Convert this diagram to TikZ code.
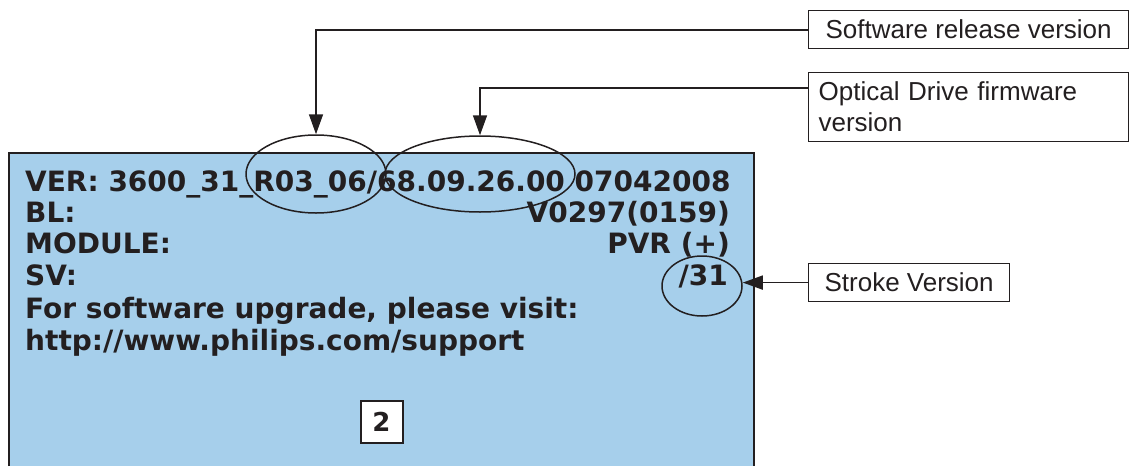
\documentclass[tikz,border=0pt]{standalone}
\usepackage{fontspec}
\setmainfont{Liberation Sans}
\newfontfamily\verd{DejaVu Sans}
\usetikzlibrary{arrows.meta,shapes.geometric}
\definecolor{scrblue}{HTML}{A6CFEB}
\definecolor{ink}{HTML}{231F20}
\tikzset{
  scr/.style={font=\verd\bfseries\fontsize{28}{32}\selectfont, text=ink, inner sep=0pt},
  lbl/.style={draw=ink, line width=1.2pt, fill=white, font=\fontsize{26}{32}\selectfont, text=ink, align=left, anchor=north west, inner xsep=10pt, inner ysep=0pt},
  ring/.style={draw=ink, line width=1.5pt, ellipse},
  conn/.style={draw=ink, line width=1.6pt, -{Triangle[length=20pt,width=14pt]}},
}
\begin{document}
\begin{tikzpicture}[x=1pt,y=-1pt]
\useasboundingbox (0,0) rectangle (1132,466);
% screen
\fill[scrblue] (9,153) rectangle (754,466);
\draw[ink, line width=2pt] (9,466) -- (9,153) -- (754,153) -- (754,466);
% screen text
\node[scr, anchor=base west] (ver) at (25,191) {VER: 3600\_31\_R03\_06/68.09.26.00 07042008};
\node[scr, anchor=base west] (bl) at (25,222) {BL:};
\node[scr, anchor=base east] (blv) at (730,222) {V0297(0159)};
\node[scr, anchor=base west] (mod) at (25,253) {MODULE:};
\node[scr, anchor=base east] (modv) at (730,253) {PVR (+)};
\node[scr, anchor=base west] (sv) at (25,285) {SV:};
\node[scr, anchor=base east] (svv) at (728,285) {/31};
\node[scr, anchor=base west] (up) at (25,318) {For software upgrade, please visit:};
\node[scr, anchor=base west] (url) at (25,350) {http://www.philips.com/support};
\node[draw=ink, line width=2pt, fill=white, minimum size=42pt, inner sep=0pt, font=\verd\bfseries\fontsize{26}{30}\selectfont, text=ink] (pg) at (381.5,421.5) {2};
% ellipses
\node[ring, minimum width=140pt, minimum height=78pt] (e1) at (316,174) {};
\node[ring, minimum width=190pt, minimum height=76pt] (e2) at (480,174) {};
\node[ring, minimum width=80pt, minimum height=60pt] (e3) at (702,286) {};
% labels
\node[lbl, minimum width=320pt, minimum height=38pt] (l1) at (808,10) {Software release version};
\node[lbl, minimum width=320pt, minimum height=69pt, text width=300pt] (l2) at (808,72) {Optical Drive firmware\\[-1pt]version};
\node[lbl, minimum width=201pt, minimum height=38pt] (l3) at (808,263) {Stroke Version};
% connectors
\draw[conn] (l1.west |- 0,30) -| (e1.north);
\draw[conn] (l2.west |- 0,88) -| (e2.north);
\draw[conn] (l3.west) -- (l3.west -| e3.east);
\end{tikzpicture}
\end{document}
